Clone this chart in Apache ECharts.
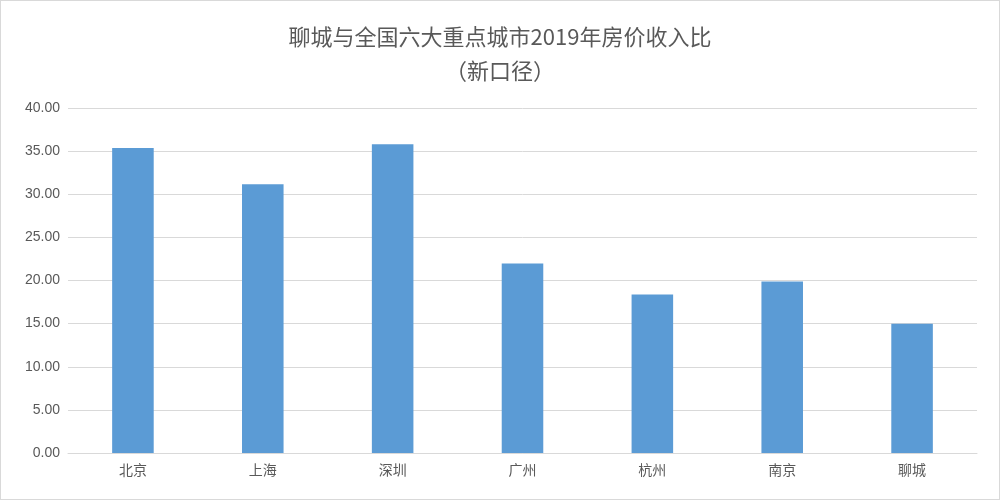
<!DOCTYPE html>
<html><head><meta charset="utf-8">
<script src="https://cdn.jsdelivr.net/npm/echarts@6/dist/echarts.min.js"></script>
<style>html,body{margin:0;padding:0;background:#fff}#c{width:998px;height:498px;border:1px solid #d9d9d9}</style>
</head><body><div id="c"></div>
<script>
const categories=['北京','上海','深圳','广州','杭州','南京','聊城'];
const values=[35.35,31.16,35.8,21.98,18.37,19.88,15.0];
const chart=echarts.init(document.getElementById('c'));
chart.setOption({
  animation:false,
  title:{text:'聊城与全国六大重点城市2019年房价收入比\n（新口径）',left:'center',top:14,
    textStyle:{fontFamily:'Noto Sans CJK SC',fontSize:22,fontWeight:'normal',color:'#595959',lineHeight:34}},
  grid:{left:67,right:22,top:107,bottom:46},
  xAxis:{type:'category',data:categories,
    axisLine:{lineStyle:{color:'#d9d9d9'}},axisTick:{show:false},
    axisLabel:{color:'#595959',fontSize:14,fontFamily:'Noto Sans CJK SC',margin:10}},
  yAxis:{type:'value',min:0,max:40,interval:5,
    axisLabel:{color:'#595959',fontSize:14,formatter:v=>v.toFixed(2)},
    splitLine:{lineStyle:{color:'#d9d9d9'}}},
  series:[{type:'bar',data:values,barWidth:'32%',itemStyle:{color:'#5b9bd5'}}]
});
</script></body></html>
